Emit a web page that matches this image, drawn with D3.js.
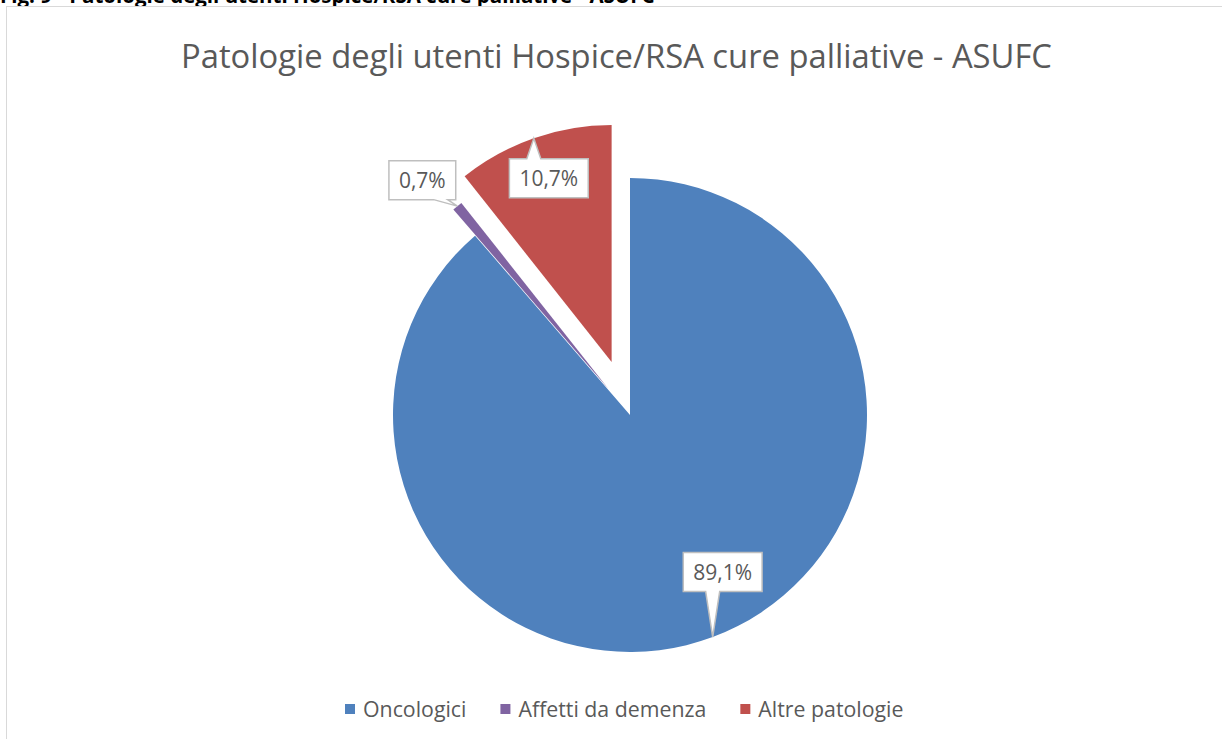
<!DOCTYPE html>
<html>
<head>
<meta charset="utf-8">
<script src="https://cdn.jsdelivr.net/npm/d3@7"></script>
<style>
  body { margin: 0; background: #fff; }
  svg { display: block; }
</style>
</head>
<body>
<svg width="1222" height="739"></svg>
<script>
// chart data
var categories = ['Oncologici', 'Affetti da demenza', 'Altre patologie'];
var values = [89.1, 0.7, 10.7];
var chartTitle = 'Patologie degli utenti Hospice/RSA cure palliative - ASUFC';
var caption = 'Fig. 9 - Patologie degli utenti Hospice/RSA cure palliative - ASUFC';

var svg = d3.select('svg');
var font = '"Open Sans", "Noto Sans", sans-serif';

var color = d3.scaleOrdinal()
    .domain(categories)
    .range(['#4f81bd', '#8064a2', '#c0504d']);

// layout
var cx = 630, cy = 415, radius = 237;
var explode = {'Oncologici': 0, 'Affetti da demenza': 34, 'Altre patologie': 56};
// label box centre relative to the pointer tip
var labelShift = {'Oncologici': [10, -65], 'Affetti da demenza': [-35, -26], 'Altre patologie': [15, 40]};

// scale font size so the text takes a given width
function fitWidth(sel, width) {
    var w = sel.node().getComputedTextLength();
    var fs = parseFloat(sel.attr('font-size'));
    sel.attr('font-size', fs * width / w);
}

// caption above the chart, cut off by the page edge (as in the source)
svg.append('text')
    .attr('x', 0)
    .attr('y', 3)
    .attr('font-family', font)
    .attr('font-weight', 'bold')
    .attr('font-size', 14)
    .attr('fill', '#000')
    .text(caption)
    .call(fitWidth, 655);

// chart area frame
svg.append('rect')
    .attr('x', 6.5)
    .attr('y', 6.5)
    .attr('width', 1400)
    .attr('height', 900)
    .attr('fill', '#fff')
    .attr('stroke', '#d9d9d9')
    .attr('stroke-width', 1);

var title = svg.append('text')
    .attr('x', 616.5)
    .attr('y', 68)
    .attr('text-anchor', 'middle')
    .attr('font-family', font)
    .attr('font-size', 30)
    .attr('fill', '#595959')
    .text(chartTitle);
fitWidth(title, 871);

var pie = d3.pie().sort(null).value(function(d) { return d.value; });
var arcs = pie(categories.map(function(c, i) { return {name: c, value: values[i]}; }));
var arc = d3.arc().innerRadius(0).outerRadius(radius);

function offsetOf(d) {
    var mid = (d.startAngle + d.endAngle) / 2;
    var e = explode[d.data.name];
    return [Math.sin(mid) * e, -Math.cos(mid) * e];
}

var pieG = svg.append('g')
    .attr('transform', 'translate(' + [cx, cy] + ')');

pieG.selectAll('.slice')
    .data(arcs)
    .enter()
    .append('path')
    .attr('class', 'slice')
    .attr('transform', function(d) { return 'translate(' + offsetOf(d) + ')'; })
    .attr('d', arc)
    .attr('fill', function(d) { return color(d.data.name); });

// data labels as callouts
var fmt = function(v) { return d3.format('.1f')(v).replace('.', ',') + '%'; };
var labelG = pieG.selectAll('.label')
    .data(arcs)
    .enter()
    .append('g')
    .attr('class', 'label');

labelG.each(function(d) {
    var g = d3.select(this);
    var mid = (d.startAngle + d.endAngle) / 2;
    var off = offsetOf(d);
    var tip = [off[0] + Math.sin(mid) * radius, off[1] - Math.cos(mid) * radius];
    var sh = labelShift[d.data.name];
    var c = [tip[0] + sh[0], tip[1] + sh[1]];

    var path = g.append('path');
    var txt = g.append('text')
        .attr('x', c[0])
        .attr('y', c[1] + 7.5)
        .attr('text-anchor', 'middle')
        .attr('font-family', font)
        .attr('font-size', 21)
        .attr('fill', '#595959')
        .text(fmt(d.data.value));
    var w = txt.node().getComputedTextLength() + 20;
    var h = 39;
    var l = c[0] - w / 2, r = c[0] + w / 2, t = c[1] - h / 2, b = c[1] + h / 2;
    var bx = Math.max(l + 15, Math.min(r - 15, tip[0]));
    var p;
    if (tip[1] > b) {
        p = [[l, t], [r, t], [r, b], [bx + 7, b], tip, [bx - 7, b], [l, b]];
    } else {
        p = [[l, t], [bx - 7, t], tip, [bx + 7, t], [r, t], [r, b], [l, b]];
    }
    path.attr('d', d3.line()(p) + 'Z')
        .attr('fill', '#fff')
        .attr('stroke', '#bfbfbf')
        .attr('stroke-width', 1.5)
        .attr('stroke-linejoin', 'miter');
});

// legend
var legend = svg.append('g')
    .attr('transform', 'translate(345, 704)');
var lx = 0, legendSize = null;
categories.forEach(function(c, i) {
    legend.append('rect')
        .attr('x', lx)
        .attr('y', 0)
        .attr('width', 10)
        .attr('height', 10)
        .attr('fill', color(c));
    var t = legend.append('text')
        .attr('x', lx + 18)
        .attr('y', 12.5)
        .attr('font-family', font)
        .attr('font-size', 18)
        .attr('fill', '#595959')
        .text(c);
    if (legendSize === null) {
        fitWidth(t, 103.5);
        legendSize = t.attr('font-size');
    } else {
        t.attr('font-size', legendSize);
    }
    lx += 18 + t.node().getComputedTextLength() + 34;
});
</script>
</body>
</html>
